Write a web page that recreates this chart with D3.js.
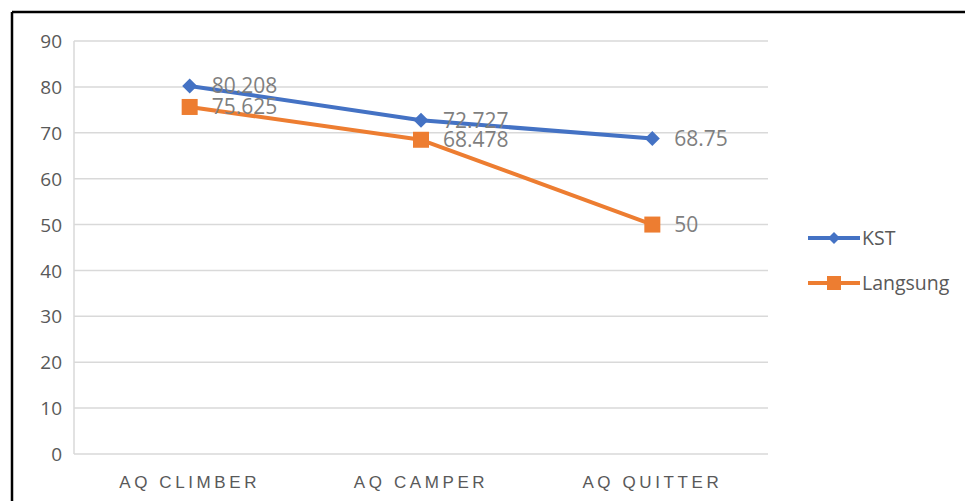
<!DOCTYPE html>
<html><head><meta charset="utf-8">
<script src="https://cdn.jsdelivr.net/npm/d3@7"></script>
<style>body{margin:0;background:#fff}svg{display:block}</style>
</head><body>
<svg id="c" width="965" height="501"></svg>
<script>
const categories = ["AQ CLIMBER", "AQ CAMPER", "AQ QUITTER"];
const kstValues = [80.208, 72.727, 68.75];
const langsungValues = [75.625, 68.478, 50];
const kstLabels = ["80.208", "72.727", "68.75"];
const langsungLabels = ["75.625", "68.478", "50"];
const yTicks = [0,10,20,30,40,50,60,70,80,90];
const seriesNames = ["KST", "Langsung"];

(function(){
const svg = d3.select("#c");
const W = 965, H = 501;
svg.append("line").attr("x1",12).attr("x2",W).attr("y1",12).attr("y2",12).attr("stroke","#000").attr("stroke-width",2.5);
svg.append("line").attr("x1",12).attr("x2",12).attr("y1",12).attr("y2",H).attr("stroke","#000").attr("stroke-width",2.5);

const pL = 74, pR = 768, pT = 41, pB = 454;
const x = d3.scaleBand().domain(categories).range([pL, pR]);
const y = d3.scaleLinear().domain([0, 90]).range([pB, pT]);

const font = "'Open Sans', 'Liberation Sans', sans-serif";

svg.append("g").selectAll("line").data(yTicks).join("line")
  .attr("x1", pL).attr("x2", pR)
  .attr("y1", d => y(d)).attr("y2", d => y(d))
  .attr("stroke", "#d9d9d9").attr("stroke-width", 1.5);
svg.append("line").attr("x1", pL).attr("x2", pL).attr("y1", pT).attr("y2", pB)
  .attr("stroke", "#d9d9d9").attr("stroke-width", 1.5);

const yAxis = d3.axisLeft(y).tickValues(yTicks).tickSize(0).tickPadding(0);
const gy = svg.append("g").attr("transform", `translate(${pL - 12},0)`).call(yAxis);
gy.select(".domain").remove();
gy.selectAll("text").attr("fill", "#595959").style("font-family", font).style("font-size", "19px").attr("dy", "0.35em");

const xAxis = d3.axisBottom(x).tickSize(0).tickPadding(0);
const gx = svg.append("g").attr("transform", `translate(0,${pB + 34})`).call(xAxis);
gx.select(".domain").remove();
gx.selectAll("text").attr("fill", "#595959").style("font-family", "'Liberation Sans Narrow', 'Liberation Sans', sans-serif")
  .style("font-size", "17px").style("letter-spacing", "3.6px").attr("dy", "0");

const cx = d => x(d) + x.bandwidth() / 2;
const line = d3.line().x(d => cx(d.c)).y(d => y(d.v));

const series = [
  {name: seriesNames[0], values: kstValues, labels: kstLabels, color: "#4472c4", marker: "diamond"},
  {name: seriesNames[1], values: langsungValues, labels: langsungLabels, color: "#ed7d31", marker: "square"}
];

function drawMarker(g, type, color, px, py) {
  if (type === "diamond") {
    g.append("path").attr("d", `M${px},${py-7.5}L${px+7.5},${py}L${px},${py+7.5}L${px-7.5},${py}Z`).attr("fill", color);
  } else {
    g.append("rect").attr("x", px-8).attr("y", py-8).attr("width", 16).attr("height", 16).attr("fill", color);
  }
}

series.forEach(s => {
  const pts = categories.map((c, i) => ({c, v: s.values[i]}));
  svg.append("path").datum(pts).attr("d", line).attr("fill", "none").attr("stroke", s.color).attr("stroke-width", 4).attr("stroke-linejoin","round");
  const g = svg.append("g");
  pts.forEach(p => drawMarker(g, s.marker, s.color, cx(p.c), y(p.v)));
});
series.forEach(s => {
  categories.forEach((c, i) => {
    svg.append("text").attr("x", cx(c) + 22).attr("y", y(s.values[i])).attr("dy", "0.35em")
      .attr("fill", "#7f7f7f").style("font-family", font).style("font-size", "21px").text(s.labels[i]);
  });
});

series.forEach((s, i) => {
  const ly = 238 + i * 45;
  svg.append("line").attr("x1", 808).attr("x2", 860).attr("y1", ly).attr("y2", ly).attr("stroke", s.color).attr("stroke-width", 4);
  const g = svg.append("g");
  if (s.marker === "diamond") {
    g.append("path").attr("d", `M834,${ly-6}L840,${ly}L834,${ly+6}L828,${ly}Z`).attr("fill", s.color);
  } else {
    g.append("rect").attr("x", 827).attr("y", ly-7).attr("width", 14).attr("height", 14).attr("fill", s.color);
  }
  svg.append("text").attr("x", 862).attr("y", ly).attr("dy", "0.35em").attr("fill", "#595959")
    .style("font-family", font).style("font-size", "19.5px").text(s.name);
});
})();
</script>
</body></html>
